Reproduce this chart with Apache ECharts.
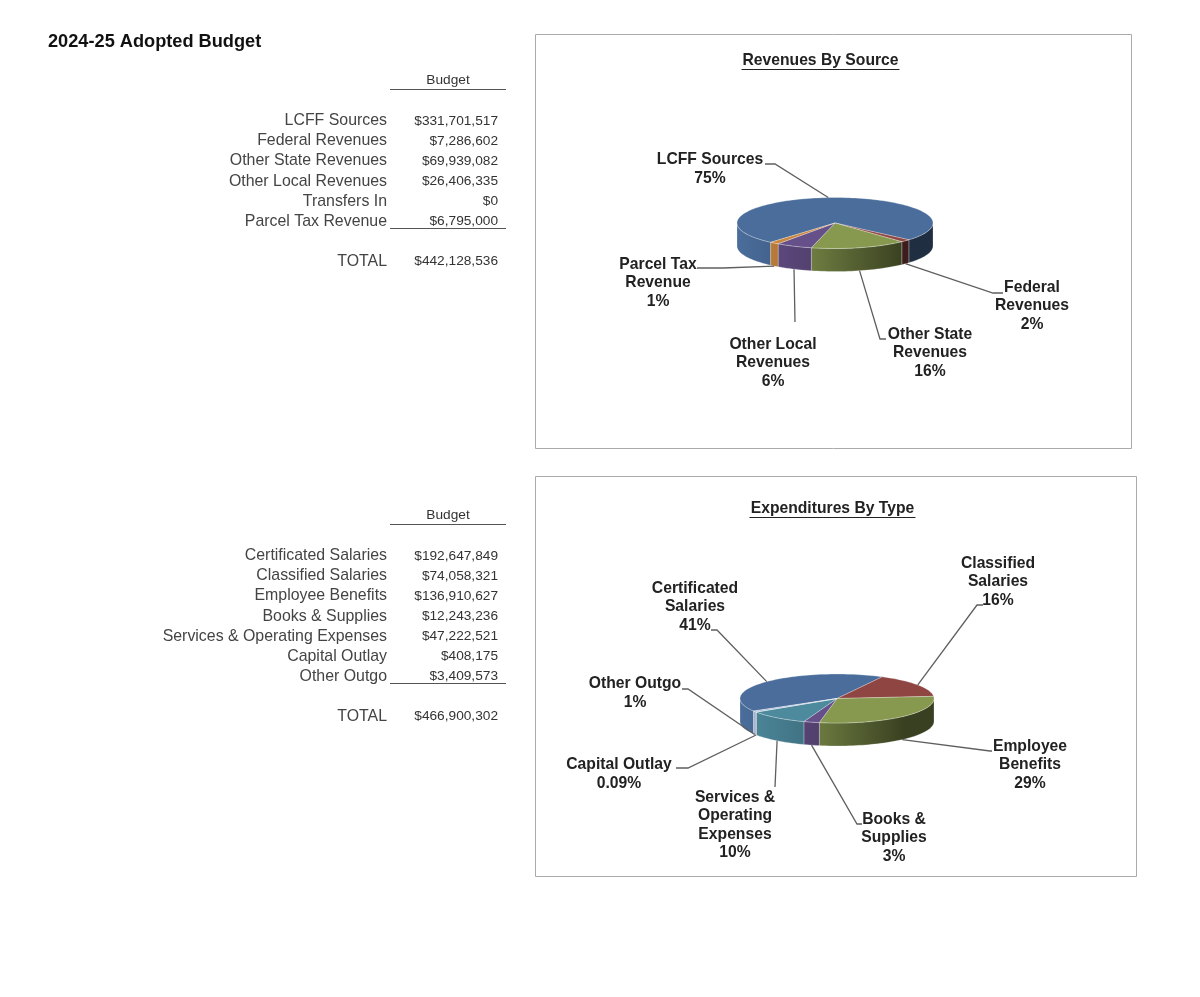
<!DOCTYPE html>
<html>
<head>
<meta charset="utf-8">
<title>2024-25 Adopted Budget</title>
<style>
  html, body { margin: 0; padding: 0; background: #fff; }
  #main { width: 1200px; height: 997px; }
</style>
<script src="https://cdn.jsdelivr.net/npm/echarts@6/dist/echarts.min.js"></script>
</head>
<body>
<div id="main"></div>
<script>
const pageTitle = '2024-25 Adopted Budget'

const revenueCategories = ['LCFF Sources', 'Federal Revenues', 'Other State Revenues', 'Other Local Revenues', 'Transfers In', 'Parcel Tax Revenue']
const revenueValues = [331701517, 7286602, 69939082, 26406335, 0, 6795000]
const revenueTotal = 442128536
const revenueSliceLabels = ['LCFF Sources\n75%', 'Federal\nRevenues\n2%', 'Other State\nRevenues\n16%', 'Other Local\nRevenues\n6%', '', 'Parcel Tax\nRevenue\n1%']

const expenseCategories = ['Certificated Salaries', 'Classified Salaries', 'Employee Benefits', 'Books & Supplies', 'Services & Operating Expenses', 'Capital Outlay', 'Other Outgo']
const expenseValues = [192647849, 74058321, 136910627, 12243236, 47222521, 408175, 3409573]
const expenseTotal = 466900302
const expenseSliceLabels = ['Certificated\nSalaries\n41%', 'Classified\nSalaries\n16%', 'Employee\nBenefits\n29%', 'Books &\nSupplies\n3%', 'Services &\nOperating\nExpenses\n10%', 'Capital Outlay\n0.09%', 'Other Outgo\n1%']

const sliceColors = ['#4a6d9b', '#8f4541', '#87994f', '#66508a', '#4d8a9e', '#c9863f', '#a9b9d9']

// where each callout sits: text centre, then the elbow points of its leader
const revenueCallouts = [
  { text: [710, 169], leader: [[775, 164], [765, 164]] },
  { text: [1032, 306], leader: [[993, 293], [1003, 293]] },
  { text: [930, 353], leader: [[880, 339], [886, 339]] },
  { text: [773, 363], leader: [[795, 322]] },
  null,
  { text: [658, 283], leader: [[723, 268], [697, 268]] }
]
const expenseCallouts = [
  { text: [695, 607], leader: [[717, 630], [711, 630]] },
  { text: [998, 582], leader: [[977, 605], [983, 605]] },
  { text: [1030, 765], leader: [[990, 751], [992, 751]] },
  { text: [894, 838], leader: [[857, 824], [862, 824]] },
  { text: [735, 825], leader: [[775, 787]] },
  { text: [619, 774], leader: [[688, 768], [676, 768]] },
  { text: [635, 693], leader: [[688, 689], [682, 689]] }
]

const money = v => '$' + v.toLocaleString('en-US')

function shade(hex, k) {
  const n = parseInt(hex.slice(1), 16)
  const c = [n >> 16, (n >> 8) & 255, n & 255].map(v => Math.round(v * k))
  return 'rgb(' + c.join(',') + ')'
}

// 3d pie: angles are clockwise from east in degrees, tilted by squashing the circle
function pieSeries(name, values, labels, callouts, pie) {
  const total = values.reduce((a, b) => a + b, 0)
  const point = (deg, drop) => {
    const r = deg * Math.PI / 180
    return [pie.cx + pie.a * Math.cos(r), pie.cy + pie.b * Math.sin(r) + (drop || 0)]
  }
  const arc = (from, to, drop) => {
    const pts = []
    const steps = Math.max(2, Math.ceil((to - from) / 2))
    for (let i = 0; i <= steps; i++) pts.push(point(from + (to - from) * i / steps, drop))
    return pts
  }
  return {
    type: 'custom',
    name: name,
    coordinateSystem: 'none',
    silent: true,
    data: values,
    renderItem(params, api) {
      const i = params.dataIndex
      const value = api.value(0)
      if (!value) return null
      let before = 0
      for (let k = 0; k < i; k++) before += values[k]
      const start = pie.start + before / total * 360
      const end = start + value / total * 360
      const color = sliceColors[i]
      const children = []

      // outer wall, only the part that faces the viewer
      const wall = new echarts.graphic.LinearGradient(pie.cx - pie.a, 0, pie.cx + pie.a, 0, [
        { offset: 0, color: shade(color, 1) },
        { offset: 0.4, color: shade(color, 0.8) },
        { offset: 0.85, color: shade(color, 0.42) },
        { offset: 1, color: shade(color, 0.42) }
      ], true)
      for (let turn = 0; turn <= 360; turn += 360) {
        const from = Math.max(start, turn)
        const to = Math.min(end, turn + 180)
        if (to > from) {
          children.push({
            type: 'polygon',
            shape: { points: arc(from, to, 0).concat(arc(from, to, pie.depth).reverse()) },
            style: { fill: wall, stroke: 'rgba(255,255,255,0.3)', lineWidth: 0.8 }
          })
        }
      }

      // top face
      children.push({
        type: 'polygon',
        shape: { points: [[pie.cx, pie.cy]].concat(arc(start, end, 0)) },
        style: { fill: color, stroke: 'rgba(255,255,255,0.35)', lineWidth: 0.8 }
      })

      // leader starts at the middle of the slice edge, on the wall if it faces front
      const mid = (start + end) / 2
      const norm = ((mid % 360) + 360) % 360
      const anchor = point(mid, norm < 180 ? pie.depth : 0)
      const callout = callouts[i]
      children.push({
        type: 'polyline',
        shape: { points: [anchor].concat(callout.leader) },
        style: { fill: null, stroke: '#5f5f5f', lineWidth: 1.3 },
        z2: 5
      })
      children.push({
        type: 'text',
        z2: 6,
        style: {
          x: callout.text[0],
          y: callout.text[1],
          text: labels[i],
          align: 'center',
          verticalAlign: 'middle',
          font: 'bold 15.7px "Liberation Sans", Arial, sans-serif',
          lineHeight: 18.5,
          fill: '#222'
        }
      })
      return { type: 'group', children: children }
    }
  }
}

// left hand budget table
function budgetTable(categories, values, total, top) {
  const font = '15.9px "Liberation Sans", Arial, sans-serif'
  const numFont = '13.7px "Liberation Sans", Arial, sans-serif'
  const els = []
  const text = (x, y, t, f, fill, align) => els.push({
    type: 'text',
    style: { x: x, y: y, text: t, font: f, fill: fill, align: align, verticalAlign: 'middle' }
  })
  const rule = (y) => els.push({
    type: 'line',
    shape: { x1: 390, y1: y, x2: 506, y2: y },
    style: { stroke: '#555', lineWidth: 1.2 }
  })
  text(448, top + 0.5, 'Budget', numFont, '#333', 'center')
  rule(top + 9.5)
  categories.forEach((c, i) => {
    const y = top + 41 + i * 20.05
    text(387, y, c, font, '#444', 'right')
    text(498, y, money(values[i]), numFont, '#333', 'right')
  })
  const lastY = top + 41 + (categories.length - 1) * 20.05
  rule(Math.round(lastY + 7) + 0.5)
  text(387, lastY + 40, 'TOTAL', font, '#444', 'right')
  text(498, lastY + 40, money(total), numFont, '#333', 'right')
  return els
}

function framedTitle(box, title, cx, y, halfWidth) {
  return [
    {
      type: 'rect',
      shape: { x: box[0] + 0.5, y: box[1] + 0.5, width: box[2], height: box[3] },
      style: { fill: 'none', stroke: '#aaa', lineWidth: 1 }
    },
    {
      type: 'text',
      style: {
        x: cx, y: y + 1, text: title, align: 'center', verticalAlign: 'middle',
        font: 'bold 15.7px "Liberation Sans", Arial, sans-serif', fill: '#222'
      }
    },
    {
      type: 'line',
      shape: { x1: cx - halfWidth, y1: y + 9.5, x2: cx + halfWidth, y2: y + 9.5 },
      style: { stroke: '#222', lineWidth: 1.2 }
    }
  ]
}

const chart = echarts.init(document.getElementById('main'))
chart.setOption({
  animation: false,
  backgroundColor: '#fff',
  graphic: [
    {
      type: 'text',
      style: {
        x: 48, y: 42, text: pageTitle, verticalAlign: 'middle',
        font: 'bold 18.2px "Liberation Sans", Arial, sans-serif', fill: '#111'
      }
    }
  ].concat(
    budgetTable(revenueCategories, revenueValues, revenueTotal, 80),
    budgetTable(expenseCategories, expenseValues, expenseTotal, 515),
    framedTitle([535, 34, 596, 414], 'Revenues By Source', 820.5, 60, 79),
    framedTitle([535, 476, 601, 400], 'Expenditures By Type', 832.5, 508, 83)
  ),
  series: [
    pieSeries('Revenues By Source', revenueValues, revenueSliceLabels, revenueCallouts,
      { cx: 835, cy: 223, a: 98, b: 25.5, depth: 23, start: 131 }),
    pieSeries('Expenditures By Type', expenseValues, expenseSliceLabels, expenseCallouts,
      { cx: 837, cy: 698.5, a: 97, b: 24.5, depth: 23, start: 149.3 })
  ]
})
</script>
</body>
</html>
